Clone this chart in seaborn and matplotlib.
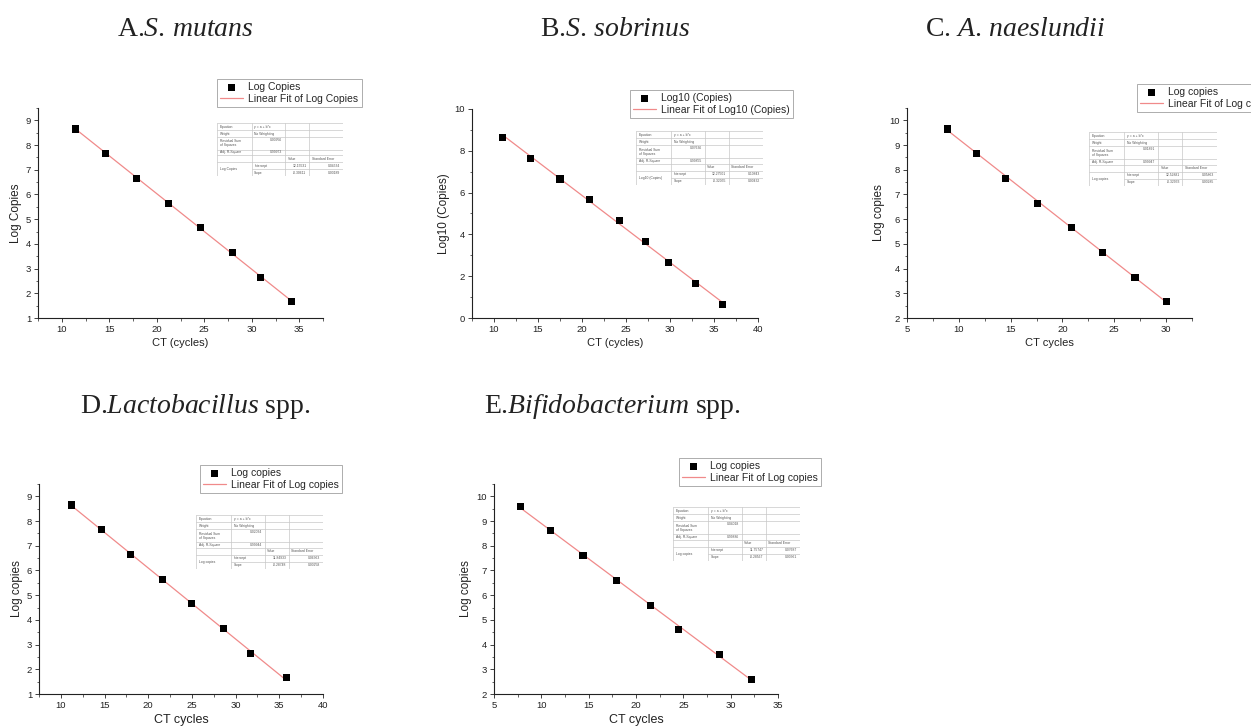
import numpy as np
import pandas as pd
import matplotlib
matplotlib.use("Agg")
import matplotlib.pyplot as plt
import seaborn as sns

# стиль
sns.set_theme(style="ticks")
plt.rcParams["font.family"] = ["Liberation Sans", "DejaVu Sans"]
plt.rcParams["mathtext.fontset"] = "custom"
plt.rcParams["mathtext.rm"] = "Liberation Serif"
plt.rcParams["mathtext.it"] = "Liberation Serif:italic"

# данные
ct_a = [11.4, 14.6, 17.9, 21.2, 24.6, 28.0, 30.9, 34.2]
log_a = [8.65, 7.65, 6.65, 5.65, 4.65, 3.65, 2.65, 1.65]
ct_b = [11.0, 14.1, 17.5, 20.9, 24.3, 27.2, 29.8, 32.9, 36.0]
log_b = [8.65, 7.65, 6.65, 5.65, 4.65, 3.65, 2.65, 1.65, 0.65]
ct_c = [8.9, 11.7, 14.5, 17.6, 20.9, 23.9, 27.0, 30.0]
log_c = [9.65, 8.65, 7.65, 6.65, 5.65, 4.65, 3.65, 2.65]
ct_d = [11.2, 14.7, 18.0, 21.6, 25.0, 28.6, 31.7, 35.8]
log_d = [8.65, 7.65, 6.65, 5.65, 4.65, 3.65, 2.65, 1.65]
ct_e = [7.8, 11.0, 14.4, 17.9, 21.5, 24.5, 28.8, 32.2]
log_e = [9.6, 8.6, 7.6, 6.6, 5.6, 4.6, 3.6, 2.6]

# параметры линейной регрессии из таблиц
intercepts = [12.15531, 12.27501, 12.52881, 11.84933, 11.75747]
slopes = [-0.30611, -0.32055, -0.32933, -0.28748, -0.28567]
intercept_err = ["0.04534", "0.10843", "0.05863", "0.06363", "0.07687"]
slope_err = ["0.00189", "0.00432", "0.00285", "0.00258", "0.00361"]
rss = ["0.00956", "0.07636", "0.01891", "0.02034", "0.04018"]
adj_r2 = ["0.99973", "0.99855", "0.99947", "0.99944", "0.99886"]

titles = ["A.$\\it{S.\\,mutans}$", "B.$\\it{S.\\,sobrinus}$", "C. $\\it{A.\\,naeslundii}$",
          "D.$\\it{Lactobacillus}$ spp.", "E.$\\it{Bifidobacterium}$ spp."]
ylabels = ["Log Copies", "Log10 (Copies)", "Log copies", "Log copies", "Log copies"]
xlabels = ["CT (cycles)", "CT (cycles)", "CT cycles", "CT cycles", "CT cycles"]
series_names = ["Log Copies", "Log10 (Copies)", "Log copies", "Log copies", "Log copies"]

W, H = 1251, 726
fig = plt.figure(figsize=(W / 100, H / 100), dpi=100)


def box(l, t, r, b):
    # пиксели -> доли фигуры
    return [l / W, 1 - b / H, (r - l) / W, (b - t) / H]


# расположение панелей (пиксели)
ax_boxes = [(38, 108, 323, 318), (472, 109, 758, 318), (907, 108, 1192, 318),
            (39, 484, 323, 694), (494, 484, 778, 694)]
xlims = [(7.5, 37.5), (7.5, 40), (5, 32.5), (7.5, 40), (5, 35)]
ylims = [(1, 9.5), (0, 10), (2, 10.5), (1, 9.5), (2, 10.5)]
ystep = [1, 2, 1, 1, 1]
legend_pos = [(217, 79), (630, 90), (1137, 84), (200, 465), (679, 458)]
table_boxes = [(217, 123, 343, 176), (636, 131, 763, 185), (1089, 132, 1217, 186),
               (196, 515, 323, 569), (673, 507, 800, 561)]
title_pos = [(185, 36), (615, 36), (1015, 36), (195, 413), (612, 413)]

data = [(ct_a, log_a), (ct_b, log_b), (ct_c, log_c), (ct_d, log_d), (ct_e, log_e)]


def draw_table(i):
    tax = fig.add_axes(box(*table_boxes[i]))
    tax.set_xlim(0, 1)
    tax.set_ylim(1, 0)
    tax.axis("off")
    cols = [0, 0.276, 0.54, 0.73, 1.0]
    rows = [0, 0.1375, 0.2625, 0.5, 0.6125, 0.7375, 0.869, 1.0]
    gc = "#c8c8c8"
    for c in cols:
        tax.plot([c, c], [0, 1], color=gc, lw=0.5)
    for k, rr in enumerate(rows):
        x0 = cols[1] if k == 6 else 0
        tax.plot([x0, 1], [rr, rr], color=gc, lw=0.5)
    fs = 2.4
    tc = "#555555"
    left = [("Equation", 0), ("Weight", 1), ("Residual Sum\nof Squares", 2), ("Adj. R-Square", 3)]
    for txt, k in left:
        tax.text(0.02, (rows[k] + rows[k + 1]) / 2, txt, fontsize=fs, va="center", color=tc, linespacing=1.0)
    mid = lambda k: (rows[k] + rows[k + 1]) / 2
    tax.text(cols[1] + 0.02, mid(0), "y = a + b*x", fontsize=fs, va="center", color=tc)
    tax.text(cols[1] + 0.02, mid(1), "No Weighting", fontsize=fs, va="center", color=tc)
    tax.text(cols[2] - 0.02, rows[2] + 0.06, rss[i], fontsize=fs, va="center", ha="right", color=tc)
    tax.text(cols[2] - 0.02, mid(3), adj_r2[i], fontsize=fs, va="center", ha="right", color=tc)
    tax.text(cols[2] + 0.02, mid(4), "Value", fontsize=fs, va="center", color=tc)
    tax.text(cols[3] + 0.02, mid(4), "Standard Error", fontsize=fs, va="center", color=tc)
    tax.text(0.02, rows[6], series_names[i], fontsize=fs, va="center", color=tc)
    tax.text(cols[1] + 0.02, mid(5), "Intercept", fontsize=fs, va="center", color=tc)
    tax.text(cols[1] + 0.02, mid(6), "Slope", fontsize=fs, va="center", color=tc)
    tax.text(cols[3] - 0.02, mid(5), f"{intercepts[i]:.5f}", fontsize=fs, va="center", ha="right", color=tc)
    tax.text(cols[3] - 0.02, mid(6), f"{slopes[i]:.5f}", fontsize=fs, va="center", ha="right", color=tc)
    tax.text(0.98, mid(5), intercept_err[i], fontsize=fs, va="center", ha="right", color=tc)
    tax.text(0.98, mid(6), slope_err[i], fontsize=fs, va="center", ha="right", color=tc)


for i in range(5):
    ax = fig.add_axes(box(*ax_boxes[i]))
    xs, ys = data[i]
    df = pd.DataFrame({"ct": xs, "log": ys})
    df["fit"] = intercepts[i] + slopes[i] * df["ct"]
    sns.lineplot(data=df, x="ct", y="fit", ax=ax, color="#f08a8a", lw=0.9,
                 label="Linear Fit of " + series_names[i])
    sns.scatterplot(data=df, x="ct", y="log", ax=ax, marker="s", color="black", s=26,
                    edgecolor="none", label=series_names[i], zorder=3)
    ax.set_xticks(np.arange(5, 45, 5))
    ax.set_xticks(np.arange(5, 42.5, 2.5), minor=True)
    ax.set_yticks(np.arange(0, 11, ystep[i]))
    ax.set_yticks(np.arange(0, 11, ystep[i] / 2), minor=True)
    ax.set_xlim(*xlims[i])
    ax.set_ylim(*ylims[i])
    sns.despine(ax=ax)
    for s in ["left", "bottom"]:
        ax.spines[s].set_linewidth(0.8)
        ax.spines[s].set_color("#222222")
    ax.tick_params(which="major", direction="out", length=3, width=0.6, labelsize=6.8, pad=2,
                   color="#222222", labelcolor="#222222")
    ax.tick_params(which="minor", direction="out", length=1.8, width=0.5, color="#222222")
    ax.set_xlabel(xlabels[i], fontsize=8 if i < 3 else 9, labelpad=3, color="#222222")
    ax.set_ylabel(ylabels[i], fontsize=8.5, labelpad=3, color="#222222")
    h, l = ax.get_legend_handles_labels()
    ax.get_legend().remove()
    lx, ly = legend_pos[i]
    leg = fig.legend([h[1], h[0]], [l[1], l[0]], loc="upper left",
                     bbox_to_anchor=(lx / W, 1 - ly / H), bbox_transform=fig.transFigure,
                     fontsize=7.5, frameon=True, fancybox=False, borderpad=0.3, labelspacing=0.15,
                     handlelength=2.2, handletextpad=0.5, borderaxespad=0, markerscale=1.0)
    leg.get_frame().set_edgecolor("#888888")
    leg.get_frame().set_linewidth(0.6)
    draw_table(i)
    tx, ty = title_pos[i]
    fig.text(tx / W, 1 - ty / H, titles[i], ha="center", va="baseline", fontsize=20,
             family="Liberation Serif", color="#222222")

fig.savefig("out.png", dpi=100)
